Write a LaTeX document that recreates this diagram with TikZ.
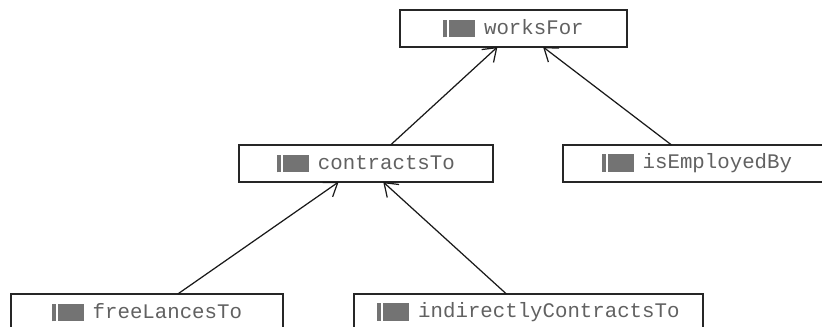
\documentclass[tikz,border=0pt]{standalone}
\usepackage{fontspec}
\setmonofont{Liberation Mono}
\usetikzlibrary{arrows.meta}
\definecolor{propgray}{gray}{0.45}
\definecolor{labelgray}{gray}{0.38}
\newcommand{\propicon}{\textcolor{propgray}{\rule[-1.6pt]{2.2pt}{10.2pt}}\hspace{1.2pt}\textcolor{propgray}{\rule[-1.6pt]{14.8pt}{10.2pt}}\hspace{5pt}}
\tikzset{
  propbox/.style={draw=black!85,line width=0.8pt,fill=white,minimum height=0.74cm,inner sep=0pt,outer sep=0pt,text=labelgray,font=\ttfamily\fontsize{11.8}{14}\selectfont},
  subprop/.style={-{Straight Barb[length=7pt,width=10pt]},line width=0.7pt,black!90}
}
\begin{document}
\begin{tikzpicture}[x=0.02cm,y=-0.02cm]
\useasboundingbox (0,0) rectangle (822,327);
\clip (0,0) rectangle (822,327);
\node[propbox,minimum width=4.54cm] (worksFor) at (513.5,28.5) {\propicon worksFor};
\node[propbox,minimum width=5.08cm] (contractsTo) at (366,163.5) {\propicon contractsTo};
\node[propbox,minimum width=5.36cm] (isEmployedBy) at (697,163.5) {\propicon isEmployedBy};
\node[propbox,minimum width=5.44cm] (freeLancesTo) at (147,312.5) {\propicon freeLancesTo};
\node[propbox,minimum width=6.98cm] (indirectlyContractsTo) at (528.5,312.5) {\propicon indirectlyContractsTo};
\draw[subprop] (contractsTo.37.6) -- (worksFor.-131.7);
\draw[subprop] (isEmployedBy.144.6) -- (worksFor.-32.1);
\draw[subprop] (freeLancesTo.31.7) -- (contractsTo.-146.6);
\draw[subprop] (indirectlyContractsTo.140.6) -- (contractsTo.-47.4);
\end{tikzpicture}
\end{document}
